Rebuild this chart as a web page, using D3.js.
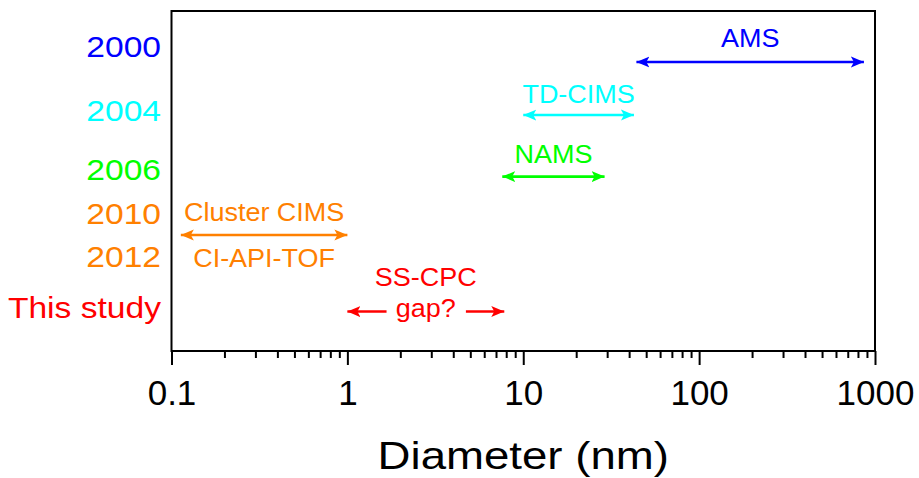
<!DOCTYPE html>
<html>
<head>
<meta charset="utf-8">
<script src="https://cdn.jsdelivr.net/npm/d3@7"></script>
<style>
  body { margin: 0; background: #fff; }
  text { font-family: "Liberation Sans", Arial, sans-serif; }
</style>
</head>
<body>
<div class="chart"></div>
<script>
// instrument ranges (nm) and the row each one sits on
const instruments = ["AMS", "TD-CIMS", "NAMS", "Cluster CIMS", "SS-CPC"];
const dMin = [44, 10, 7.6, 0.113, 1];
const dMax = [865, 42.6, 29, 1, 7.8];
const rowLevel = [8.5, 6.94, 5.13, 3.41, 1.16];
const instColors = ["#0000ff", "#00ffff", "#00ff00", "#ff8000", "#ff0000"];

// SS-CPC arrow is split around the "gap?" text
const gapFrom = [1.67];
const gapTo = [4.72];

// text over / under the arrows
const labelText = ["AMS", "TD-CIMS", "NAMS", "Cluster CIMS", "CI-API-TOF", "SS-CPC", "gap?"];
const labelArrow = [0, 1, 2, 3, 3, 4, 4];
const labelLevel = [9.21, 7.55, 5.79, 4.10, 2.74, 2.19, 1.26];

// years on the left
const yearLabels = ["2000", "2004", "2006", "2010", "2012", "This study"];
const yearLevel = [8.97, 7.07, 5.34, 4.06, 2.79, 1.30];
const yearColors = ["#0000ff", "#00ffff", "#00ff00", "#ff8000", "#ff8000", "#ff0000"];

const majorTicks = [0.1, 1, 10, 100, 1000];

const width = 919;
const height = 478;
const plotLeft = 171.5, plotRight = 875, plotTop = 11, plotBottom = 351;

const x = d3.scaleLog().domain([0.1, 1000]).range([plotLeft, plotRight]);
const y = d3.scaleLinear().domain([0, 10]).range([plotBottom, plotTop]);

const svg = d3.select(".chart")
  .append("svg")
  .attr("width", width)
  .attr("height", height);

// arrow heads
const defs = svg.append("defs");
instColors.forEach((c, i) => {
  defs.append("marker")
    .attr("id", "head" + i)
    .attr("viewBox", "-13 -6 14 12")
    .attr("refX", 0)
    .attr("refY", 0)
    .attr("markerWidth", 14)
    .attr("markerHeight", 12)
    .attr("markerUnits", "userSpaceOnUse")
    .attr("orient", "auto-start-reverse")
    .append("path")
    .attr("d", "M0,0 L-13,-5.5 L-10,0 L-13,5.5 Z")
    .attr("fill", c);
});

// minor ticks
const minorTicks = [];
for (let e = -1; e < 3; e++) {
  for (let k = 2; k < 10; k++) minorTicks.push(k * Math.pow(10, e));
}

svg.append("g")
  .attr("transform", "translate(0," + plotBottom + ")")
  .call(d3.axisBottom(x).tickValues(minorTicks).tickSize(7).tickFormat(""))
  .call(g => g.select(".domain").remove())
  .call(g => g.selectAll("line").attr("stroke-width", 2));

const xAxis = svg.append("g")
  .attr("transform", "translate(0," + plotBottom + ")")
  .call(d3.axisBottom(x).tickValues(majorTicks).tickSize(14).tickPadding(15)
    .tickFormat(d => d3.format("~g")(d)));
xAxis.select(".domain").remove();
xAxis.selectAll("line").attr("stroke-width", 2);
xAxis.selectAll("text")
  .attr("font-size", 35)
  .attr("fill", "#000")
  .style("font-family", "'Liberation Sans', Arial, sans-serif");

// frame
svg.append("rect")
  .attr("x", plotLeft)
  .attr("y", plotTop)
  .attr("width", plotRight - plotLeft)
  .attr("height", plotBottom - plotTop)
  .attr("fill", "none")
  .attr("stroke", "#000")
  .attr("stroke-width", 2);

// arrows
function arrow(i, a, b, startHead, endHead) {
  const line = svg.append("line")
    .attr("x1", x(a))
    .attr("x2", x(b))
    .attr("y1", y(rowLevel[i]))
    .attr("y2", y(rowLevel[i]))
    .attr("stroke", instColors[i])
    .attr("stroke-width", 2.6);
  if (startHead) line.attr("marker-start", "url(#head" + i + ")");
  if (endHead) line.attr("marker-end", "url(#head" + i + ")");
}
instruments.forEach((name, i) => {
  if (name === "SS-CPC") {
    arrow(i, dMin[i], gapFrom[0], true, false);
    arrow(i, gapTo[0], dMax[i], false, true);
  } else {
    arrow(i, dMin[i], dMax[i], true, true);
  }
});

function stretchedText(tx, ty, str, size, sx, color, anchor) {
  svg.append("text")
    .attr("transform", "translate(" + tx + "," + ty + ") scale(" + sx + ",1)")
    .attr("text-anchor", anchor)
    .attr("dy", "0.36em")
    .attr("font-size", size)
    .attr("fill", color)
    .text(str);
}

// labels centred (in log space) over their arrow
labelText.forEach((t, j) => {
  const i = labelArrow[j];
  const mid = Math.sqrt(dMin[i] * dMax[i]);
  stretchedText(x(mid), y(labelLevel[j]), t, 25, 1.08, instColors[i], "middle");
});

// years
yearLabels.forEach((t, i) => {
  stretchedText(161, y(yearLevel[i]), t, 30, 1.12, yearColors[i], "end");
});

// axis title
svg.append("text")
  .attr("transform", "translate(" + (plotLeft + plotRight) / 2 + ",469) scale(1.2,1)")
  .attr("text-anchor", "middle")
  .attr("font-size", 38)
  .attr("fill", "#000")
  .text("Diameter (nm)");
</script>
</body>
</html>
